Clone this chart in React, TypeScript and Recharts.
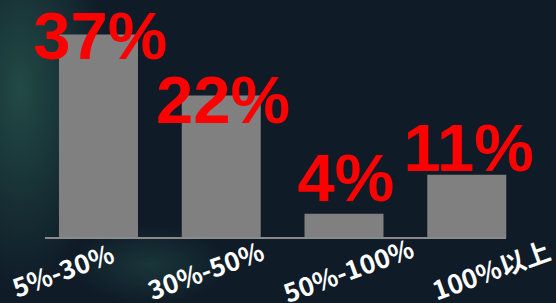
import { ComposedChart, Bar, Line, XAxis, YAxis, LabelList } from "recharts";

const categories = ["5%-30%", "30%-50%", "50%-100%", "100%以上"];
// bar heights as drawn in the picture (percent units)
const barValues = [37, 25.9, 4.4, 11.5];
// printed percentages
const shares = [37, 22, 4, 11];
const shareLabels = ["37%", "22%", "4%", "11%"];

const data = categories.map((name, i) => ({
  name,
  bar: barValues[i],
  share: shares[i],
  text: shareLabels[i],
}));

const ShareLabel = (props: any) => {
  const { x, y, index } = props;
  return (
    <text
      x={x + 2}
      y={y}
      textAnchor="middle"
      fill="#ff0000"
      fontFamily="'Liberation Sans', Arial, sans-serif"
      fontWeight="bold"
      fontSize={67}
    >
      {shareLabels[index]}
    </text>
  );
};

const CategoryTick = (props: any) => {
  const { x, y, payload, index } = props;
  const cx = x + (index - 1.5) * 20 - 6;
  const cy = y + 23;
  return (
    <text
      x={cx}
      y={cy}
      textAnchor="middle"
      dominantBaseline="central"
      fill="#ffffff"
      fontFamily="'Noto Sans CJK SC', sans-serif"
      fontWeight="bold"
      fontSize={26}
      transform={`rotate(-20 ${cx} ${cy})`}
    >
      {payload.value}
    </text>
  );
};

export default function App() {
  return (
    <div
      style={{
        position: "absolute",
        left: 0,
        top: 0,
        width: 556,
        height: 303,
        background:
          "radial-gradient(ellipse 90px 200px at 20px 90px, rgba(40,90,80,0.75), rgba(40,90,80,0) 100%), radial-gradient(ellipse 80px 40px at 150px 265px, rgba(35,80,75,0.5), rgba(35,80,75,0) 100%), #0f1b27",
      }}
    >
      <ComposedChart
        width={556}
        height={303}
        data={data}
        margin={{ top: 18, right: 50, left: 45, bottom: 0 }}
      >
        <XAxis
          dataKey="name"
          height={65}
          padding={{ left: -8, right: -22 }}
          axisLine={{ stroke: "#8a8a8a", strokeWidth: 2 }}
          tickLine={false}
          interval={0}
          tick={<CategoryTick />}
        />
        <YAxis yAxisId="bar" hide domain={[0, 40]} />
        <YAxis yAxisId="lbl" hide domain={[-4.7, 46.5]} />
        <Bar
          yAxisId="bar"
          dataKey="bar"
          fill="#808080"
          barSize={79}
          isAnimationActive={false}
        />
        <Line
          yAxisId="lbl"
          dataKey="share"
          stroke="none"
          dot={false}
          activeDot={false}
          isAnimationActive={false}
        >
          <LabelList dataKey="share" content={<ShareLabel />} />
        </Line>
      </ComposedChart>
    </div>
  );
}
